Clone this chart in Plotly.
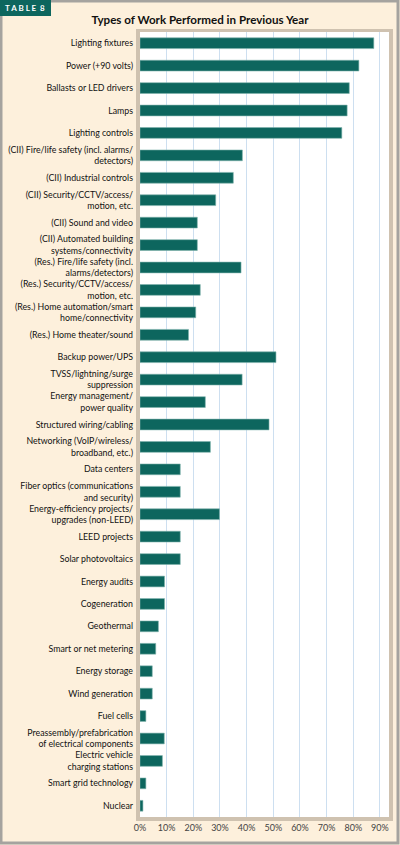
import plotly.graph_objects as go

# work types, top to bottom as in the table
work_types = [
    "Lighting fixtures",
    "Power (+90 volts)",
    "Ballasts or LED drivers",
    "Lamps",
    "Lighting controls",
    "(CII) Fire/life safety (incl. alarms/<br>detectors)",
    "(CII) Industrial controls",
    "(CII) Security/CCTV/access/<br>motion, etc.",
    "(CII) Sound and video",
    "(CII) Automated building<br>systems/connectivity",
    "(Res.) Fire/life safety (incl.<br>alarms/detectors)",
    "(Res.) Security/CCTV/access/<br>motion, etc.",
    "(Res.) Home automation/smart<br>home/connectivity",
    "(Res.) Home theater/sound",
    "Backup power/UPS",
    "TVSS/lightning/surge<br>suppression",
    "Energy management/<br>power quality",
    "Structured wiring/cabling",
    "Networking (VoIP/wireless/<br>broadband, etc.)",
    "Data centers",
    "Fiber optics (communications<br>and security)",
    "Energy-efficiency projects/<br>upgrades (non-LEED)",
    "LEED projects",
    "Solar photovoltaics",
    "Energy audits",
    "Cogeneration",
    "Geothermal",
    "Smart or net metering",
    "Energy storage",
    "Wind generation",
    "Fuel cells",
    "Preassembly/prefabrication<br>of electrical components",
    "Electric vehicle<br>charging stations",
    "Smart grid technology",
    "Nuclear",
]

# share of respondents (%)
share_pct = [
    87.7, 82.1, 78.5, 77.7, 75.7,
    38.4, 35.0, 28.4, 21.5, 21.5,
    37.9, 22.6, 20.9, 18.2,
    51.0, 38.3, 24.5, 48.4, 26.4,
    15.1, 15.1, 29.8, 15.1, 15.1,
    9.2, 9.2, 6.9, 5.9, 4.6, 4.6, 2.2,
    9.1, 8.4, 2.2, 1.1,
]

tick_vals = list(range(0, 100, 10))
tick_text = [f"{v}%" for v in tick_vals]

TEAL = "#0d665e"
CREAM = "#fdf0dc"
FONT = "Lato, Open Sans, sans-serif"
W, H = 400, 845
L, R, T, B = 140, 11, 32, 28


def px_x(p):
    return (p - L) / (W - L - R)


def px_y(p):
    return (H - B - p) / (H - T - B)


fig = go.Figure(go.Bar(
    x=share_pct,
    y=work_types,
    orientation="h",
    marker=dict(color=TEAL, line=dict(color="#7fb3ac", width=0.6)),
    hovertemplate="%{y}: %{x:.0f}%<extra></extra>",
))

shapes = [
    # drop shadow behind the plot panel
    dict(type="rect", xref="paper", yref="paper", layer="below",
         x0=px_x(136), x1=px_x(393), y0=px_y(29), y1=px_y(821),
         fillcolor="rgba(120,110,95,0.35)", line=dict(width=0)),
    # white plot panel
    dict(type="rect", xref="paper", yref="paper", layer="below",
         x0=0, x1=1, y0=0, y1=1,
         fillcolor="white", line=dict(width=0)),
    # outer frame
    dict(type="rect", xref="paper", yref="paper", layer="below",
         x0=px_x(1), x1=px_x(398), y0=px_y(1), y1=px_y(843),
         fillcolor="rgba(0,0,0,0)", line=dict(color="#a5a39f", width=3)),
    # "TABLE 8" tab
    dict(type="rect", xref="paper", yref="paper", layer="above",
         x0=px_x(0), x1=px_x(51), y0=px_y(0), y1=px_y(16),
         fillcolor=TEAL, line=dict(width=0)),
]

fig.update_layout(
    width=W, height=H,
    margin=dict(l=L, r=R, t=T, b=B, autoexpand=False),
    paper_bgcolor=CREAM,
    plot_bgcolor="rgba(0,0,0,0)",
    font=dict(family=FONT, size=8.8, color="#111"),
    showlegend=False,
    bargap=0.52,
    shapes=shapes,
    title=dict(
        text="Types of Work Performed in Previous Year",
        x=0.5, xref="container", xanchor="center",
        y=1 - 20 / H, yref="container", yanchor="middle",
        font=dict(family=FONT, size=11.6, color="#111", weight="bold"),
    ),
    annotations=[
        dict(text="T A B L E  8", xref="paper", yref="paper",
             x=px_x(25), y=px_y(8), xanchor="center", yanchor="middle",
             showarrow=False,
             font=dict(family=FONT, size=8, color="white", weight="bold")),
    ],
)

fig.update_xaxes(
    range=[0, 93.4],
    tickvals=tick_vals, ticktext=tick_text,
    showgrid=True, gridcolor="#cddff0", gridwidth=1,
    zeroline=False, showline=False, ticks="",
    tickfont=dict(size=9, color="#444"),
    ticklabelstandoff=4,
    automargin=False,
    fixedrange=True,
)
fig.update_yaxes(
    autorange="reversed",
    showgrid=False, ticks="", showline=False,
    ticklabelstandoff=6,
    tickfont=dict(size=8.8, color="#111"),
    automargin=False,
    fixedrange=True,
)

# drop the browser's default body margin so the figure fills the window
fig.write_html(
    "out.html",
    config={"displayModeBar": False},
    post_script="document.body.style.margin = '0';",
)
